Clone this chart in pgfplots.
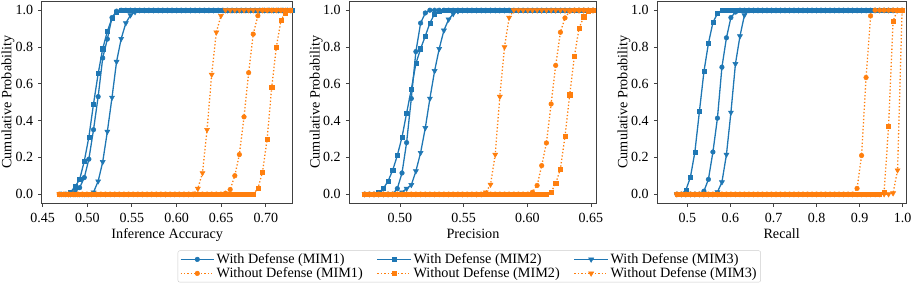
\documentclass[border=0pt]{standalone}
\usepackage{fontspec}
\setmainfont{Liberation Serif}
\usepackage{pgfplots}
\usepackage{pgfplotstable}
\pgfplotsset{compat=1.18}
\definecolor{tblue}{HTML}{1F77B4}
\definecolor{torange}{HTML}{FF7F0E}

% Panel 1: Inference Accuracy
\pgfplotstableread{
xo xb b1 b2 b3 o1 o2 o3
0.4687 0.4708 0 0 0 0 0 0
0.4739 0.4760 0 0 0 0 0 0
0.4790 0.4811 0 0.01 0 0 0 0
0.4842 0.4863 0.01 0.04 0 0 0 0
0.4894 0.4915 0.035 0.08 0 0 0 0
0.4946 0.4967 0.09 0.18 0 0 0 0
0.4997 0.5018 0.19 0.31 0 0 0 0
0.5049 0.5070 0.35 0.49 0.01 0 0 0
0.5101 0.5122 0.53 0.655 0.07 0 0 0
0.5152 0.5173 0.74 0.79 0.175 0 0 0
0.5204 0.5225 0.843 0.885 0.34 0 0 0
0.5256 0.5277 0.96 0.957 0.525 0 0 0
0.5307 0.5328 0.995 0.99 0.72 0 0 0
0.5359 0.5380 1 1 0.845 0 0 0
0.5411 0.5432 1 1 0.93 0 0 0
0.5463 0.5484 1 1 0.973 0 0 0
0.5514 0.5535 1 1 0.99 0 0 0
0.5566 0.5587 1 1 1 0 0 0
0.5618 0.5639 1 1 1 0 0 0
0.5669 0.5690 1 1 1 0 0 0
0.5721 0.5742 1 1 1 0 0 0
0.5773 0.5794 1 1 1 0 0 0
0.5824 0.5845 1 1 1 0 0 0
0.5876 0.5897 1 1 1 0 0 0
0.5928 0.5949 1 1 1 0 0 0
0.5980 0.6001 1 1 1 0 0 0
0.6031 0.6052 1 1 1 0 0 0
0.6083 0.6104 1 1 1 0 0 0
0.6135 0.6156 1 1 1 0 0 0
0.6186 0.6207 1 1 1 0 0 0
0.6238 0.6259 1 1 1 0 0 0.03
0.6290 0.6311 1 1 1 0 0 0.115
0.6341 0.6362 1 1 1 0 0 0.35
0.6393 0.6414 1 1 1 0 0 0.65
0.6445 0.6466 1 1 1 0 0 0.88
0.6497 0.6518 1 1 1 0 0 0.97
0.6548 0.6569 1 1 1 0.005 0 1
0.6600 0.6621 1 1 1 0.025 0 1
0.6652 0.6673 1 1 1 0.10 0 1
0.6703 0.6724 1 1 1 0.215 0 1
0.6755 0.6776 1 1 1 0.42 0 1
0.6807 0.6828 1 1 1 0.66 0 1
0.6858 0.6879 1 1 1 0.87 0 1
0.6910 0.6931 1 1 1 0.97 0.03 1
0.6962 0.6983 1 1 1 1 0.12 1
0.7014 0.7035 1 1 1 1 0.30 1
0.7065 0.7086 1 1 1 1 0.58 1
0.7117 0.7138 1 1 1 1 0.80 1
0.7169 0.7190 1 1 1 1 0.946 1
0.7220 0.7241 1 1 1 1 0.986 1
0.7272 0.7293 1 1 1 1 1 1
}\dataA

% Panel 2: Precision
\pgfplotstableread{
x b1 b2 b3 o1 o2 o3
0.4723 0 0 0 0 0 0
0.4760 0 0 0 0 0 0
0.4796 0 0 0 0 0 0
0.4833 0 0.01 0 0 0 0
0.4869 0 0.03 0 0 0 0
0.4906 0 0.07 0 0 0 0
0.4943 0 0.13 0 0 0 0
0.4979 0.03 0.21 0 0 0 0
0.5016 0.115 0.31 0.01 0 0 0
0.5052 0.28 0.44 0.03 0 0 0
0.5089 0.52 0.57 0.05 0 0 0
0.5125 0.775 0.71 0.125 0 0 0
0.5162 0.93 0.79 0.225 0 0 0
0.5199 0.985 0.86 0.36 0 0 0
0.5235 1 0.93 0.52 0 0 0
0.5272 1 0.98 0.67 0 0 0
0.5308 1 0.995 0.79 0 0 0
0.5345 1 1 0.89 0 0 0
0.5382 1 1 0.95 0 0 0
0.5418 1 1 0.98 0 0 0
0.5455 1 1 0.995 0 0 0
0.5491 1 1 1 0 0 0
0.5528 1 1 1 0 0 0
0.5565 1 1 1 0 0 0
0.5601 1 1 1 0 0 0
0.5638 1 1 1 0 0 0
0.5674 1 1 1 0 0 0.01
0.5711 1 1 1 0 0 0.052
0.5748 1 1 1 0 0 0.215
0.5784 1 1 1 0 0 0.53
0.5821 1 1 1 0 0 0.80
0.5857 1 1 1 0 0 0.96
0.5894 1 1 1 0 0 1
0.5930 1 1 1 0 0 1
0.5967 1 1 1 0 0 1
0.6004 1 1 1 0 0 1
0.6040 1 1 1 0.01 0 1
0.6077 1 1 1 0.047 0 1
0.6113 1 1 1 0.155 0 1
0.6150 1 1 1 0.278 0 1
0.6187 1 1 1 0.49 0.01 1
0.6223 1 1 1 0.70 0.058 1
0.6260 1 1 1 0.88 0.137 1
0.6296 1 1 1 0.958 0.314 1
0.6333 1 1 1 0.995 0.54 1
0.6370 1 1 1 1 0.75 1
0.6406 1 1 1 1 0.90 1
0.6443 1 1 1 1 0.964 1
0.6479 1 1 1 1 0.995 1
0.6516 1 1 1 1 1 1
}\dataB

% Panel 3: Recall
\pgfplotstableread{
x b1 b2 b3 o1 o2 o3
0.4755 0 0 0 0 0 0
0.4860 0 0 0 0 0 0
0.4964 0 0.022 0 0 0 0
0.5069 0 0.092 0 0 0 0
0.5173 0 0.229 0 0 0 0
0.5278 0 0.449 0 0 0 0
0.5383 0.016 0.666 0 0 0 0
0.5487 0.08 0.819 0 0 0 0
0.5592 0.229 0.933 0 0 0 0
0.5697 0.413 0.982 0.011 0 0 0
0.5801 0.69 1 0.065 0 0 0
0.5906 0.85 1 0.215 0 0 0
0.6010 0.96 1 0.444 0 0 0
0.6115 0.99 1 0.708 0 0 0
0.6220 1 1 0.859 0 0 0
0.6324 1 1 0.973 0 0 0
0.6429 1 1 1 0 0 0
0.6534 1 1 1 0 0 0
0.6638 1 1 1 0 0 0
0.6743 1 1 1 0 0 0
0.6847 1 1 1 0 0 0
0.6952 1 1 1 0 0 0
0.7057 1 1 1 0 0 0
0.7161 1 1 1 0 0 0
0.7266 1 1 1 0 0 0
0.7371 1 1 1 0 0 0
0.7475 1 1 1 0 0 0
0.7580 1 1 1 0 0 0
0.7684 1 1 1 0 0 0
0.7789 1 1 1 0 0 0
0.7894 1 1 1 0 0 0
0.7998 1 1 1 0 0 0
0.8103 1 1 1 0 0 0
0.8207 1 1 1 0 0 0
0.8312 1 1 1 0 0 0
0.8417 1 1 1 0 0 0
0.8521 1 1 1 0 0 0
0.8626 1 1 1 0 0 0
0.8731 1 1 1 0 0 0
0.8835 1 1 1 0 0 0
0.8940 1 1 1 0.031 0 0
0.9045 1 1 1 0.21 0 0
0.9149 1 1 1 0.634 0 0
0.9254 1 1 1 0.969 0 0
0.9358 1 1 1 1 0 0
0.9463 1 1 1 1 0 0
0.9568 1 1 1 1 0.01 0
0.9672 1 1 1 1 0.368 0
0.9777 1 1 1 1 0.942 0.005
0.9881 1 1 1 1 1 0.13
0.9986 1 1 1 1 1 1
}\dataC

\pgfplotsset{
  panel/.style={
    scale only axis, height=202.3pt, anchor=south west,
    ymin=-0.05, ymax=1.05, ytick={0,0.2,0.4,0.6,0.8,1.0},
    tick align=outside, xtick pos=left, ytick pos=left,
    major tick length=3.5pt,
    axis line style={black!75, line width=0.9pt},
    every tick/.style={black!75, line width=0.9pt},
    tick label style={font=\fontsize{14}{16}\selectfont},
    label style={font=\fontsize{14.2}{16}\selectfont},
    yticklabel style={/pgf/number format/fixed, /pgf/number format/fixed zerofill, /pgf/number format/precision=1, /pgf/number format/assume math mode=true, anchor=east, inner sep=0pt, xshift=-4.9pt},
    xticklabel style={anchor=base, inner sep=0pt, yshift=-15.9pt},
    ylabel={Cumulative Probability},
    ylabel style={at={(axis description cs:-0.134,0.5)}, anchor=center},
    xlabel style={at={(axis description cs:0.5,-0.175)}, anchor=base},
  },
  wd/.style={color=tblue, line width=1.3pt, solid, mark options={solid, fill=tblue, draw=tblue, line width=0.5pt}},
  wod/.style={color=torange, line width=1.3pt, dash pattern=on 1.3pt off 2.1pt, mark options={solid, fill=torange, draw=torange, line width=0.5pt}},
  mc/.style={mark=*, mark size=2.3pt},
  ms/.style={mark=square*, mark size=2.1pt},
  mt/.style={mark=triangle*, mark size=2.9pt, every mark/.append style={rotate=180}},
  xfmt2/.style={xticklabel style={/pgf/number format/fixed, /pgf/number format/fixed zerofill, /pgf/number format/precision=2, /pgf/number format/assume math mode=true}},
  xfmt1/.style={xticklabel style={/pgf/number format/fixed, /pgf/number format/fixed zerofill, /pgf/number format/precision=1, /pgf/number format/assume math mode=true}},
}

\begin{document}
\begin{tikzpicture}
\useasboundingbox (0,0) rectangle (913pt,285pt);

\begin{axis}[panel, xfmt2, at={(41.7pt,81.7pt)}, width=251pt,
  xmin=0.449, xmax=0.730, xtick={0.45,0.5,0.55,0.6,0.65,0.7},
  xlabel={Inference Accuracy}]
\addplot[wd, mc] table[x=xb, y=b1]{\dataA};
\addplot[wd, ms] table[x=xb, y=b2]{\dataA};
\addplot[wd, mt] table[x=xb, y=b3]{\dataA};
\addplot[wod, mc] table[x=xo, y=o1]{\dataA};
\addplot[wod, ms] table[x=xo, y=o2]{\dataA};
\addplot[wod, mt] table[x=xo, y=o3]{\dataA};
\end{axis}

\begin{axis}[panel, xfmt2, at={(349.3pt,81.7pt)}, width=247.4pt,
  xmin=0.4602, xmax=0.6545, xtick={0.5,0.55,0.6,0.65},
  xlabel={Precision},
  legend columns=3, legend cell align=left,
  legend style={at={(0.485,-0.312)}, anchor=center, draw=black!20, rounded corners=2pt, fill=white,
    font=\fontsize{14.2}{16}\selectfont, inner xsep=2pt, inner ysep=1pt, row sep=-1.5pt,
    /tikz/every even column/.append style={column sep=12pt}},
  legend image code/.code={\draw[mark repeat=2,mark phase=2,#1] plot coordinates {(0pt,0pt) (16.75pt,0pt) (33.5pt,0pt)};}]
\addplot[wd, mc] table[x=x, y=b1]{\dataB};
\addplot[wd, ms] table[x=x, y=b2]{\dataB};
\addplot[wd, mt] table[x=x, y=b3]{\dataB};
\addplot[wod, mc] table[x=x, y=o1]{\dataB};
\addplot[wod, ms] table[x=x, y=o2]{\dataB};
\addplot[wod, mt] table[x=x, y=o3]{\dataB};
\legend{With Defense (MIM1), With Defense (MIM2), With Defense (MIM3), Without Defense (MIM1), Without Defense (MIM2), Without Defense (MIM3)}
\end{axis}

\begin{axis}[panel, xfmt1, at={(657.3pt,81.7pt)}, width=248.7pt,
  xmin=0.430, xmax=1.0077, xtick={0.5,0.6,0.7,0.8,0.9,1.0},
  xlabel={Recall}]
\addplot[wd, mc] table[x=x, y=b1]{\dataC};
\addplot[wd, ms] table[x=x, y=b2]{\dataC};
\addplot[wd, mt] table[x=x, y=b3]{\dataC};
\addplot[wod, mc] table[x=x, y=o1]{\dataC};
\addplot[wod, ms] table[x=x, y=o2]{\dataC};
\addplot[wod, mt] table[x=x, y=o3]{\dataC};
\end{axis}
\end{tikzpicture}
\end{document}
